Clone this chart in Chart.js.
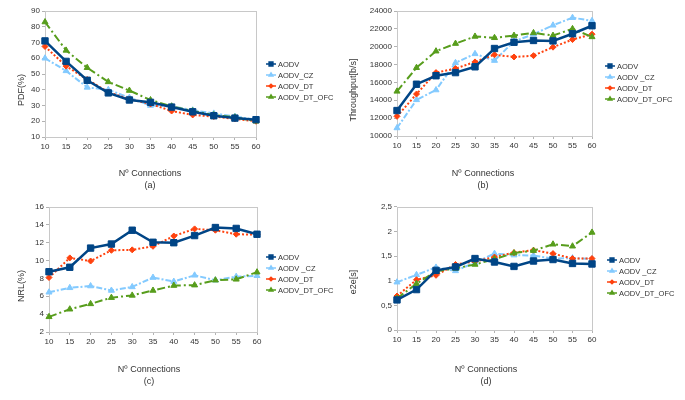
<!DOCTYPE html>
<html>
<head>
<meta charset="utf-8">
<script src="https://cdn.jsdelivr.net/npm/chart.js@4/dist/chart.umd.min.js"></script>
<style>
  body { margin: 0; background: #fff; width: 685px; height: 400px; position: relative; overflow: hidden; }
  canvas { position: absolute; }
</style>
</head>
<body>
<canvas id="chartA" width="342" height="200" style="left:0;top:0"></canvas>
<canvas id="chartB" width="343" height="200" style="left:342px;top:0"></canvas>
<canvas id="chartC" width="342" height="200" style="left:0;top:200px"></canvas>
<canvas id="chartD" width="343" height="200" style="left:342px;top:200px"></canvas>
<script>
var connections = ['10', '15', '20', '25', '30', '35', '40', '45', '50', '55', '60'];
var namesA = ['AODV', 'AODV_CZ', 'AODV_DT', 'AODV_DT_OFC'];
var namesOther = ['AODV', 'AODV _CZ', 'AODV_DT', 'AODV_DT_OFC'];

// (a) PDF(%)
var pdfAodv = [71, 58, 46, 38, 33.5, 32, 29, 26, 23.5, 22, 21];
var pdfCz   = [60, 52, 41.5, 40, 35, 30, 29.5, 27, 25, 23, 21];
var pdfDt   = [67.5, 55, 46.5, 38.5, 34, 31, 26.5, 24, 23, 21.5, 20];
var pdfOfc  = [83, 65, 54, 45, 39.5, 33.5, 29.5, 26.5, 24, 22.5, 20];

// (b) Throughput[b/s]
var thrAodv = [12850, 15800, 16750, 17100, 17750, 19800, 20500, 20700, 20650, 21450, 22350];
var thrCz   = [10900, 14050, 15150, 18200, 19200, 18450, 20600, 21400, 22400, 23250, 22900];
var thrDt   = [12200, 14700, 17100, 17550, 18300, 19100, 18850, 19000, 19950, 20800, 21400];
var thrOfc  = [15000, 17650, 19500, 20350, 21150, 21000, 21250, 21550, 21250, 22000, 21100];

// (c) NRL(%)
var nrlAodv = [8.75, 9.25, 11.4, 11.85, 13.4, 12.05, 12.0, 12.8, 13.7, 13.6, 12.95];
var nrlCz   = [6.45, 6.95, 7.15, 6.65, 7.05, 8.1, 7.65, 8.35, 7.8, 8.2, 8.3];
var nrlDt   = [8.1, 10.3, 9.95, 11.15, 11.2, 11.6, 12.75, 13.55, 13.4, 12.95, 12.9];
var nrlOfc  = [3.7, 4.55, 5.15, 5.85, 6.1, 6.65, 7.2, 7.25, 7.8, 7.9, 8.7];

// (d) e2e[s]
var e2eAodv = [0.61, 0.82, 1.21, 1.28, 1.45, 1.38, 1.29, 1.40, 1.43, 1.35, 1.34];
var e2eCz   = [0.97, 1.12, 1.27, 1.20, 1.37, 1.55, 1.52, 1.51, 1.45, 1.46, 1.44];
var e2eDt   = [0.69, 1.02, 1.11, 1.33, 1.39, 1.48, 1.57, 1.62, 1.55, 1.45, 1.45];
var e2eOfc  = [0.64, 0.94, 1.19, 1.25, 1.33, 1.44, 1.56, 1.61, 1.74, 1.70, 1.98];

var FONT = '"Liberation Sans", Arial, sans-serif';
var TEXT = '#333333';

// line / marker look of the four protocols
var looks = [
  { color: '#004586', width: 2.5, dash: [], point: 'rect', radius: 4.5 },
  { color: '#83caff', width: 2, dash: [6, 2, 2, 2], point: 'triangle', radius: 3.5 },
  { color: '#ff420e', width: 2, dash: [2, 2], point: 'rectRot', radius: 3 },
  { color: '#579d1c', width: 2, dash: [8, 3, 2, 3], point: 'triangle', radius: 3.5 }
];

var panelDeco = {
  id: 'panelDeco',
  beforeDatasetsDraw: function(chart) {
    var ctx = chart.ctx, a = chart.chartArea;
    ctx.save();
    ctx.strokeStyle = '#c8c8c8';
    ctx.lineWidth = 1;
    ctx.strokeRect(Math.round(a.left) + 0.5, Math.round(a.top) + 0.5,
      Math.round(a.right - a.left), Math.round(a.bottom - a.top));
    ctx.restore();
  },
  afterDraw: function(chart, args, o) {
    var ctx = chart.ctx;
    ctx.save();
    ctx.fillStyle = TEXT;
    ctx.textAlign = 'center';
    ctx.textBaseline = 'middle';
    ctx.font = '9px ' + FONT;
    ctx.fillText(o.xTitle[0], o.xTitleX, o.xTitleY);
    ctx.fillText(o.xTitle[1], o.xTitleX, o.xTitleY + 12);

    ctx.save();
    ctx.translate(o.yTitleX, o.yTitleY);
    ctx.rotate(-Math.PI / 2);
    ctx.fillText(o.yTitle, 0, 0);
    ctx.restore();

    // legend
    ctx.font = '7.5px ' + FONT;
    ctx.textAlign = 'left';
    chart.data.datasets.forEach(function(ds, i) {
      var y = o.legendY + i * o.legendStep;
      var x = o.legendX;
      ctx.strokeStyle = ds.borderColor;
      ctx.fillStyle = ds.borderColor;
      ctx.lineWidth = 1.5;
      ctx.setLineDash([]);
      ctx.beginPath();
      ctx.moveTo(x, y);
      ctx.lineTo(x + 10, y);
      ctx.stroke();
      Chart.helpers.drawPoint(ctx, { pointStyle: ds.pointStyle, rotation: 0, radius: ds.pointRadius * 0.6, borderWidth: 1 }, x + 5, y);
      ctx.fillStyle = TEXT;
      ctx.fillText(ds.label, x + 12, y + 0.5);
    });
    ctx.restore();
  }
};

function makeChart(id, names, series, yScale, box, deco) {
  var datasets = series.map(function(values, i) {
    var lk = looks[i];
    return {
      label: names[i],
      data: values,
      borderColor: lk.color,
      backgroundColor: lk.color,
      borderWidth: lk.width,
      borderDash: lk.dash,
      pointStyle: lk.point,
      pointRadius: lk.radius,
      pointBorderWidth: 1,
      tension: 0,
      fill: false
    };
  });
  // draw first series on top like the original
  datasets.forEach(function(d, i) { d.order = i === 0 ? 0 : 4 - i; });

  return new Chart(document.getElementById(id), {
    type: 'line',
    data: { labels: connections, datasets: datasets },
    plugins: [panelDeco],
    options: {
      responsive: false,
      animation: false,
      layout: { padding: { left: 0, top: box.top, right: box.right, bottom: 0 } },
      plugins: { legend: { display: false }, tooltip: { enabled: false }, panelDeco: deco },
      scales: {
        x: {
          grid: { drawOnChartArea: false, tickLength: 3, color: '#b3b3b3' },
          border: { display: false },
          ticks: { font: { size: 8, family: FONT }, color: TEXT, padding: 2, maxRotation: 0, autoSkip: false },
          afterFit: function(s) { s.height = box.xh; }
        },
        y: {
          min: yScale.min,
          max: yScale.max,
          grid: { drawOnChartArea: false, tickLength: 3, color: '#b3b3b3' },
          border: { display: false },
          ticks: {
            stepSize: yScale.step,
            font: { size: 8, family: FONT },
            color: TEXT,
            padding: 2,
            callback: function(v) { return String(v).replace('.', ','); }
          },
          afterFit: function(s) { s.width = box.yw; }
        }
      }
    }
  });
}

makeChart('chartA', namesA, [pdfAodv, pdfCz, pdfDt, pdfOfc],
  { min: 10, max: 90, step: 10 },
  { top: 11, right: 86, xh: 63, yw: 45 },
  { yTitle: 'PDF(%)', yTitleX: 22, yTitleY: 90, xTitle: ['Nº Connections', '(a)'], xTitleX: 150, xTitleY: 174,
    legendX: 266, legendY: 64, legendStep: 11 });

makeChart('chartB', namesOther, [thrAodv, thrCz, thrDt, thrOfc],
  { min: 10000, max: 24000, step: 2000 },
  { top: 11, right: 93, xh: 64, yw: 55 },
  { yTitle: 'Throughput[b/s]', yTitleX: 12, yTitleY: 90, xTitle: ['Nº Connections', '(b)'], xTitleX: 141, xTitleY: 174,
    legendX: 263, legendY: 66, legendStep: 11 });

makeChart('chartC', namesOther, [nrlAodv, nrlCz, nrlDt, nrlOfc],
  { min: 2, max: 16, step: 2 },
  { top: 7, right: 85, xh: 68, yw: 49 },
  { yTitle: 'NRL(%)', yTitleX: 22, yTitleY: 86, xTitle: ['Nº Connections', '(c)'], xTitleX: 149, xTitleY: 170,
    legendX: 266, legendY: 57, legendStep: 11 });

makeChart('chartD', namesOther, [e2eAodv, e2eCz, e2eDt, e2eOfc],
  { min: 0, max: 2.5, step: 0.5 },
  { top: 6, right: 93, xh: 70, yw: 55 },
  { yTitle: 'e2e[s]', yTitleX: 12, yTitleY: 82, xTitle: ['Nº Connections', '(d)'], xTitleX: 144, xTitleY: 170,
    legendX: 265, legendY: 60, legendStep: 11 });
</script>
</body>
</html>
